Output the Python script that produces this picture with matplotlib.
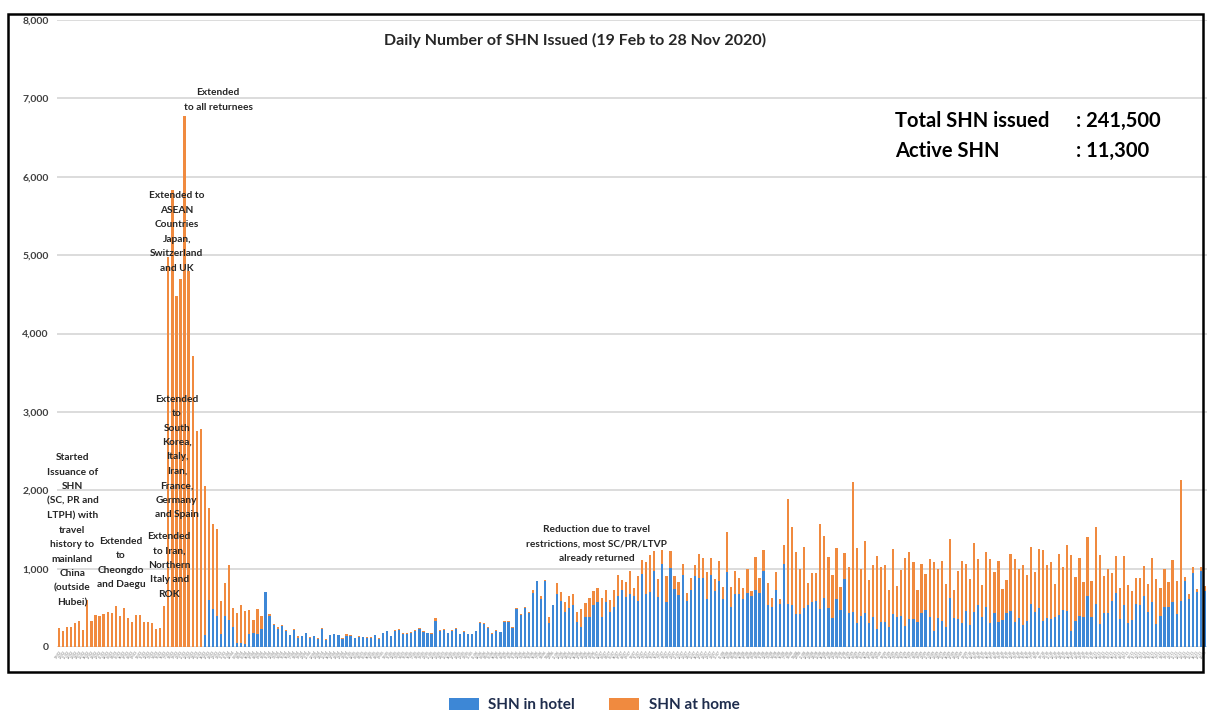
import numpy as np
import pandas as pd
import matplotlib.pyplot as plt
from matplotlib.patches import Rectangle

# daily SHN issued, 19 Feb to 28 Nov 2020
dates = pd.date_range("2020-02-19", "2020-11-28", freq="D")

hotel = [0] * 36 + [
    150, 595, 480, 390, 160, 395, 350, 250, 50, 55, 35, 165, 175, 170, 225, 700,
    400, 280, 235, 265, 210, 150, 220, 120, 140, 180, 120, 135, 100, 235, 95, 150,
    160, 150, 105, 145, 145, 110, 130, 125, 115, 120, 150, 105, 180, 200, 140, 200,
    220, 170, 165, 185, 205, 230, 190, 180, 170, 335, 210, 215, 180, 205, 230, 160,
    195, 165, 160, 205, 310, 295, 240, 170, 200, 190, 320, 325, 240, 480, 410, 495,
    440, 695, 840, 610, 845, 300, 530, 675, 590, 450, 495, 535, 325, 260, 385, 385,
    530, 580, 380, 580, 450, 515, 655, 730, 635, 670, 645, 590, 930, 675, 700, 965,
    635, 1055, 580, 1005, 740, 665, 920, 585, 730, 900, 885, 885, 615, 920, 715, 845,
    615, 960, 515, 670, 670, 610, 695, 645, 730, 685, 975, 530, 505, 730, 555, 1055,
    555, 535, 420, 420, 495, 530, 580, 585, 485, 630, 495, 375, 615, 470, 870, 430,
    445, 300, 400, 430, 300, 385, 230, 315, 315, 260, 420, 380, 395, 270, 355, 355,
    315, 440, 470, 385, 200, 375, 335, 250, 630, 375, 360, 300, 460, 280, 450, 535,
    385, 515, 310, 440, 315, 345, 430, 460, 325, 365, 280, 330, 545, 445, 495, 335,
    365, 355, 385, 405, 470, 465, 205, 335, 400, 385, 655, 385, 555, 290, 430, 430,
    590, 695, 355, 530, 300, 345, 555, 530, 645, 450, 580, 290, 400, 505, 515, 570,
    415, 590, 845, 610, 940, 705, 970, 720,
]

home = [
    240, 210, 255, 250, 310, 335, 215, 600, 335, 410, 390, 425, 445, 430, 525, 395,
    495, 365, 320, 405, 405, 325, 320, 305, 235, 245, 525, 4980, 5830, 4480, 4700, 6770,
    4800, 3710, 2760, 2780, 1900, 1175, 1090, 1120, 430, 425, 690, 250, 390, 475, 425, 305,
    175, 320, 165, 0, 20, 10, 15, 15, 5, 5, 5, 15, 5, 5, 5, 5,
    15, 5, 5, 5, 5, 5, 5, 20, 5, 5, 5, 5, 15, 5, 5, 5,
    5, 5, 5, 15, 5, 5, 10, 5, 10, 10, 10, 5, 5, 30, 5, 10,
    5, 10, 10, 5, 10, 5, 5, 5, 15, 5, 10, 5, 15, 5, 15, 5,
    10, 20, 5, 20, 5, 35, 5, 40, 10, 80, 5, 140, 115, 130, 150, 135,
    125, 220, 180, 235, 190, 170, 250, 145, 150, 215, 265, 125, 200, 300, 110, 315,
    180, 415, 475, 265, 230, 185, 320, 220, 165, 170, 135, 100, 155, 140, 300, 245,
    345, 210, 155, 255, 145, 505, 245, 305, 205, 145, 300, 70, 415, 190, 265, 285,
    125, 225, 60, 245, 1330, 995, 790, 575, 775, 285, 370, 355, 1085, 785, 650, 540,
    645, 290, 325, 585, 1655, 960, 595, 925, 555, 655, 930, 710, 730, 470, 825, 400,
    590, 860, 860, 735, 415, 620, 460, 735, 880, 615, 765, 555, 745, 355, 615, 800,
    595, 590, 880, 590, 400, 700, 810, 520, 785, 395, 425, 725, 795, 630, 765, 590,
    725, 510, 750, 900, 675, 725, 420, 780, 545, 840, 970, 555, 730, 450, 745, 460,
    980, 885, 480, 565, 350, 470, 395, 635, 490, 370, 330, 350, 390, 355, 550, 580,
    350, 490, 320, 540, 430, 1540, 50, 60, 85, 30, 55, 60,
]

tick_labels = [d.strftime("%d/%m") for d in dates]

notes = [
    ("Started\nIssuance of\nSHN\n(SC, PR and\nLTPH) with\ntravel\nhistory to\nmainland\nChina\n(outside\nHubei)", 3.3, 1490),
    ("Extended\nto\nCheongdo\nand Daegu", 15.3, 1070),
    ("Extended\nto Iran,\nNorthern\nItaly and\nROK", 27.2, 1045),
    ("Extended\nto\nSouth\nKorea,\nItaly,\nIran,\nFrance,\nGermany\nand Spain", 29.1, 2425),
    ("Extended to\nASEAN\nCountries\nJapan,\nSwitzerland\nand UK", 29.1, 5295),
    ("Extended\nto all returnees", 39.3, 6980),
    ("Reduction due to travel\nrestrictions, most SC/PR/LTVP\nalready returned", 132.8, 1315),
]

plt.rcParams["font.family"] = ["Lato", "DejaVu Sans"]

blue = "#3D87D6"
orange = "#F08A3F"

fig = plt.figure(figsize=(12.09, 7.16), dpi=100)
ax = fig.add_axes([57 / 1209, 1 - 647 / 716, 1150 / 1209, 627 / 716])

x = np.arange(len(dates))
ax.bar(x, hotel, width=0.55, color=blue, label="SHN in hotel", zorder=2)
ax.bar(x, home, width=0.55, bottom=hotel, color=orange, label="SHN at home", zorder=2)

ax.set_xlim(-0.5, len(dates) - 0.5)
ax.set_ylim(0, 8000)
ax.set_yticks(np.arange(0, 8001, 1000))
ax.set_yticklabels([f"{v:,}" for v in range(0, 8001, 1000)],
                   fontsize=7.5, fontweight="bold", color="#404040")
ax.set_xticks(x)
ax.set_xticklabels(tick_labels, rotation=55, fontsize=2.3, color="#6e6e6e",
                   ha="right", rotation_mode="anchor")
ax.tick_params(axis="both", length=0, pad=6)
ax.tick_params(axis="x", pad=2)
ax.grid(axis="y", color="#d9d9d9", linewidth=1.3, zorder=0)
ax.set_axisbelow(True)
for s in ax.spines.values():
    s.set_visible(False)

for txt, xi, yv in notes:
    ax.text(xi, yv, txt, ha="center", va="center", fontsize=7.3, fontweight="bold",
            color="#262626", linespacing=1.78, zorder=3)

fig.text(575 / 1209, 1 - 40 / 716, "Daily Number of SHN Issued (19 Feb to 28 Nov 2020)",
         ha="center", va="center", fontsize=11.5, fontweight="bold", color="#262626")
fig.text(895 / 1209, 1 - 121 / 716, "Total SHN issued", ha="left", va="center",
         fontsize=14.5, fontweight="bold", color="black")
fig.text(1076 / 1209, 1 - 121 / 716, ": 241,500", ha="left", va="center",
         fontsize=14.5, fontweight="bold", color="black")
fig.text(895 / 1209, 1 - 151 / 716, "Active SHN", ha="left", va="center",
         fontsize=14.5, fontweight="bold", color="black")
fig.text(1076 / 1209, 1 - 151 / 716, ": 11,300", ha="left", va="center",
         fontsize=14.5, fontweight="bold", color="black")

# frame around the chart area
fig.patches.append(Rectangle((8 / 1209, 1 - 672 / 716), 1195 / 1209, 658 / 716,
                             transform=fig.transFigure, fill=False,
                             edgecolor="black", linewidth=1.8))

leg = fig.legend(loc="center", bbox_to_anchor=(594 / 1209, 1 - 705 / 716), ncol=2,
                 frameon=False, fontsize=11, handlelength=2.0, handleheight=0.9,
                 columnspacing=2.2, handletextpad=0.6)
for t in leg.get_texts():
    t.set_fontweight("bold")
    t.set_color("#1f2d4d")

fig.savefig("out.png", dpi=100)
